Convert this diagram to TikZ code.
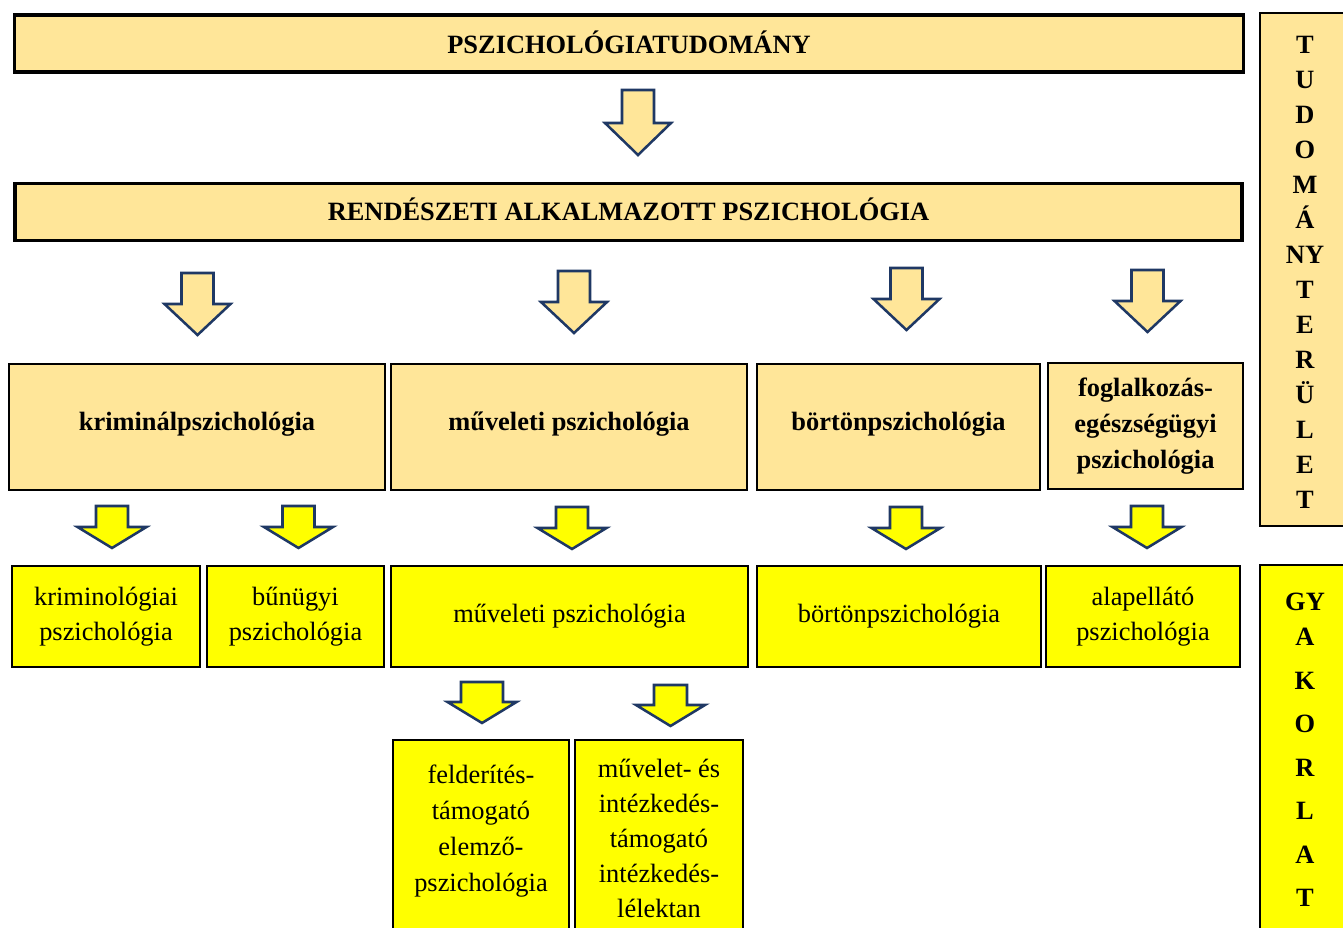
\documentclass[tikz,border=0pt]{standalone}
\usepackage{fontspec}
\setmainfont{Liberation Serif}
\definecolor{gold}{HTML}{FFE699}
\definecolor{yel}{HTML}{FFFF00}
\definecolor{navy}{HTML}{1F3864}
\newcommand\fsz{\fontsize{19.8}{26.4}\selectfont}
\newcommand\blkarr[7]{\draw[arrline, fill=#7] (#1-#3,#2) -- (#1+#3,#2) -- (#1+#3,#2+#5) -- (#1+#4,#2+#5) -- (#1,#2+#6) -- (#1-#4,#2+#5) -- (#1-#3,#2+#5) -- cycle;}
\tikzset{
  sz/.style 2 args={minimum width=#1*0.75pt, minimum height=#2*0.75pt},
  box/.style={draw=black, line width=1.7pt, inner sep=0pt, align=center, font=\fsz},
  gbox/.style={box, fill=gold, font=\fsz\bfseries},
  ybox/.style={box, fill=yel},
  thickbox/.style={line width=2.7pt},
  sidebox/.style={line width=2.2pt},
  txt/.style={inner sep=0pt, align=center, font=\fsz},
  arrline/.style={draw=navy, line width=1.9pt, line join=miter}
}
\begin{document}
\begin{tikzpicture}[x=0.75pt,y=-0.75pt]
\useasboundingbox (0,0) rectangle (1343,928);
\begin{scope}
\clip (0,0) rectangle (1343,928);
% top level
\node[gbox, thickbox, sz={1229}{57}] (top) at (629,43.5) {};
\node[txt, font=\fsz\bfseries] (topt) at (629,42) {PSZICHOLÓGIATUDOMÁNY};
\blkarr{638}{90}{16}{33}{33}{65}{gold}
\node[gbox, thickbox, sz={1227}{57}] (ras) at (628.5,212) {};
\node[txt, font=\fsz\bfseries] (rast) at (628.5,209.5) {RENDÉSZETI ALKALMAZOTT PSZICHOLÓGIA};
% arrows to level 3
\blkarr{197.5}{273}{16}{33}{31}{62}{gold}
\blkarr{574}{271}{16}{33}{31}{62}{gold}
\blkarr{906.5}{268}{16}{33}{31}{62}{gold}
\blkarr{1147.5}{270}{16}{33}{31}{62}{gold}
% level 3
\node[gbox, sz={376}{126}] (kp) at (197,427) {};
\node[txt, font=\fsz\bfseries] (kpt) at (197,424) {kriminálpszichológia};
\node[gbox, sz={356}{126}] (mp) at (569,427) {};
\node[txt, font=\fsz\bfseries] (mpt) at (569,424) {műveleti pszichológia};
\node[gbox, sz={283}{126}] (bp) at (898.5,427) {};
\node[txt, font=\fsz\bfseries] (bpt) at (898.5,424) {börtönpszichológia};
\node[gbox, sz={195}{126}, font=\fontsize{19.8}{27}\selectfont\bfseries] (fp) at (1145.5,426) {foglalkozás-\\egészségügyi\\pszichológia};
% yellow arrows
\blkarr{112}{506}{16}{34.5}{21}{42}{yel}
\blkarr{298.5}{506}{16}{34.5}{21}{42}{yel}
\blkarr{572}{507}{16}{34.5}{21}{42}{yel}
\blkarr{906}{507}{16}{34.5}{21}{42}{yel}
\blkarr{1147}{506}{16}{34.5}{21}{42}{yel}
% yellow row
\node[ybox, sz={188}{101}] (y1) at (106,616.5) {kriminológiai\\pszichológia};
\node[ybox, sz={177}{101}] (y2) at (295.5,616.5) {bűnügyi\\pszichológia};
\node[ybox, sz={357}{101}] (y3) at (569.5,616.5) {műveleti pszichológia};
\node[ybox, sz={284}{101}] (y4) at (899,616.5) {börtönpszichológia};
\node[ybox, sz={194}{101}] (y5) at (1143,616.5) {alapellátó\\pszichológia};
% bottom arrows
\blkarr{482}{682}{21}{34.5}{20}{41}{yel}
\blkarr{670.5}{685}{16.5}{34.5}{20}{41}{yel}
% bottom boxes
\node[ybox, sz={176}{240}] (b1) at (481,860) {};
\node[txt, font=\fontsize{19.8}{27}\selectfont] (b1t) at (481,831) {felderítés-\\támogató\\elemző-\\pszichológia};
\node[ybox, sz={168}{240}] (b2) at (659,860) {};
\node[txt, font=\fontsize{19.8}{26.4}\selectfont] (b2t) at (659,838.5) {művelet- és\\intézkedés-\\támogató\\intézkedés-\\lélektan};
% right side
\node[gbox, sidebox, sz={90}{513}] (tud) at (1305,269.5) {};
\node[txt, font=\fontsize{19.8}{26.25}\selectfont\bfseries, anchor=north] (tudt) at (1305,36) {T\\U\\D\\O\\M\\Á\\NY\\T\\E\\R\\Ü\\L\\E\\T};
\node[ybox, sidebox, sz={90}{405}] (gyak) at (1305,767.5) {};
\node[txt, font=\fontsize{19.8}{26.4}\selectfont\bfseries, anchor=north] (gyakt) at (1305,593) {GY\\A\\[6.2pt]K\\[6.2pt]O\\[6.2pt]R\\[6.2pt]L\\[6.2pt]A\\[6.2pt]T};
\end{scope}
\end{tikzpicture}
\end{document}
